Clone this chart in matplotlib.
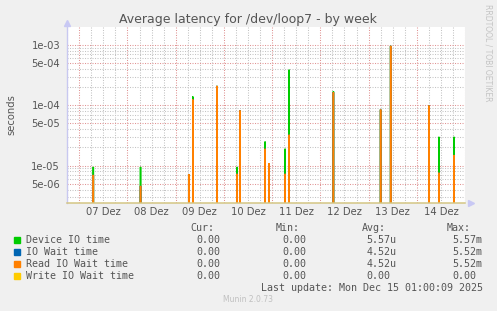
import numpy as np
import matplotlib.pyplot as plt
from matplotlib.patches import Rectangle

W, H = 497, 311

# samples are 30 min apart, time in hours since 07 Dez 00:00
spike_hours = [7.0, 30.5, 54.5, 56.5, 68.5, 78.5, 80.0, 92.5, 94.5, 102.5,
               104.5, 126.5, 150.0, 155.0, 174.0, 179.0, 186.5]
device_io = [9.5e-6, 9.5e-6, 7.2e-6, 1.4e-4, 2.1e-4, 9.5e-6, 8.2e-5, 2.5e-5, 1.1e-5,
             1.9e-5, 3.9e-4, 1.7e-4, 8.5e-5, 9.7e-4, 9.9e-5, 3.0e-5, 3.0e-5]
io_wait = [7.0e-6, 4.6e-6, 7.2e-6, 1.25e-4, 2.1e-4, 7.3e-6, 8.2e-5, 1.9e-5, 1.1e-5,
           7.3e-6, 3.25e-5, 1.65e-4, 8.5e-5, 9.7e-4, 9.9e-5, 7.6e-6, 1.5e-5]
read_wait = io_wait
write_wait = []  # no write waits at all this week

day_labels = ["07 Dez", "08 Dez", "09 Dez", "10 Dez", "11 Dez", "12 Dez", "13 Dez", "14 Dez"]

names = ["Device IO time", "IO Wait time", "Read IO Wait time", "Write IO Wait time"]
colors = ["#00cc00", "#0066b3", "#ff8000", "#ffcc00"]
cur = ["0.00", "0.00", "0.00", "0.00"]
mins = ["0.00", "0.00", "0.00", "0.00"]
avgs = ["5.57u", "4.52u", "4.52u", "0.00"]
maxs = ["5.57m", "5.52m", "5.52m", "0.00"]

t = np.arange(-6.0, 192.5, 0.5)


def to_series(hours, vals):
    s = np.zeros_like(t)
    if len(hours):
        s[np.searchsorted(t, hours)] = vals
    return s


series = [to_series(spike_hours, device_io),
          to_series(spike_hours, io_wait),
          to_series(spike_hours, read_wait),
          to_series([], write_wait)]

fig = plt.figure(figsize=(W / 100, H / 100), dpi=100, facecolor="#f0f0f0")
ax = fig.add_axes([67 / W, 1 - 203 / H, 398 / W, 176 / H])
ax.set_facecolor("white")
ax.set_yscale("log", nonpositive="clip")

for s, c in zip(series, colors):
    ax.plot(t, s, color=c, lw=1.1, solid_joinstyle="miter")

ax.set_xlim(-6.1, 192.0)
ax.set_ylim(2.39e-6, 1.995e-3)

# grid: red at midnight / main decades, grey for the rest
midnights = np.arange(0, 193, 24)
quarters = [h for h in np.arange(-6, 193, 6) if h % 24 != 0]
ax.set_xticks(midnights)
ax.set_xticks(quarters, minor=True)
ax.tick_params(axis="x", which="both", length=0, labelbottom=False)

ymaj = [5e-6, 1e-5, 5e-5, 1e-4, 5e-4, 1e-3]
ylab = ["5e-06", "1e-05", "5e-05", "1e-04", "5e-04", "1e-03"]
ymin = [m * d for d in [1e-6, 1e-5, 1e-4, 1e-3] for m in [2, 3, 4, 6, 7, 8, 9]
        if 2.39e-6 < m * d < 1.995e-3]
ax.set_yticks(ymaj, ylab)
ax.set_yticks(ymin, minor=True)
ax.yaxis.set_minor_formatter(plt.NullFormatter())
ax.tick_params(axis="y", which="both", length=0, pad=5, labelsize=7.2, labelcolor="#555555")

ax.grid(True, which="major", color="#e09494", lw=0.75, ls=(0, (1, 1.4)))
ax.grid(True, which="minor", color="#c4c4c4", lw=0.75, ls=(0, (1, 1.4)))
ax.set_axisbelow(True)

sec = ax.secondary_xaxis("bottom")
sec.set_xticks(midnights[:-1] + 12, day_labels)
sec.tick_params(length=0, pad=3, labelsize=7.2, labelcolor="#555555")
sec.spines["bottom"].set_visible(False)

for side in ["top", "right"]:
    ax.spines[side].set_visible(False)
ax.spines["left"].set_color("#c8c8f0")
ax.spines["bottom"].set_color("#d4c684")
ax.spines["left"].set_linewidth(1.0)
ax.spines["bottom"].set_linewidth(1.1)

# axis arrows
ax.plot([0], [1.025], marker="^", ms=5, color="#c8c8f4", transform=ax.transAxes, clip_on=False)
ax.plot([1.015], [0], marker=">", ms=5, color="#c8c8f4", transform=ax.transAxes, clip_on=False)

txt = "#555555"
fig.text(248 / W, 1 - 19 / H, "Average latency for /dev/loop7 - by week",
         ha="center", va="center", fontsize=9, color=txt)
fig.text(11 / W, 1 - 115 / H, "seconds", rotation=90, ha="center", va="center",
         fontsize=7.2, color=txt)
fig.text(488 / W, 1 - 53 / H, "RRDTOOL / TOBI OETIKER", rotation=270, ha="center",
         va="center", fontsize=5.5, color="#c4c4c4")

# legend block
mono = dict(family="DejaVu Sans Mono", fontsize=7.2, color=txt, va="center")
for x, head in zip([190.7, 276, 361.7, 446.7], ["Cur:", "Min:", "Avg:", "Max:"]):
    fig.text(x / W, 1 - 228.3 / H, head, **mono)
for i, y in enumerate([239.7, 251.7, 263.7, 275.7]):
    fig.patches.append(Rectangle((14 / W, 1 - (y + 3) / H), 6 / W, 6 / H,
                                 color=colors[i], transform=fig.transFigure))
    fig.text(26.3 / W, 1 - y / H, names[i], **mono)
    fig.text(196 / W, 1 - y / H, cur[i], **mono)
    fig.text(282 / W, 1 - y / H, mins[i], **mono)
    fig.text(366.7 / W, 1 - y / H, avgs[i], **mono)
    fig.text(452.7 / W, 1 - y / H, maxs[i], **mono)
fig.text(482.7 / W, 1 - 287.7 / H, "Last update: Mon Dec 15 01:00:09 2025",
         ha="right", **mono)
fig.text(248 / W, 1 - 300 / H, "Munin 2.0.73", ha="center", va="center",
         fontsize=5.5, color="#c0c0c0")

fig.savefig("out.png", dpi=100, facecolor=fig.get_facecolor())
